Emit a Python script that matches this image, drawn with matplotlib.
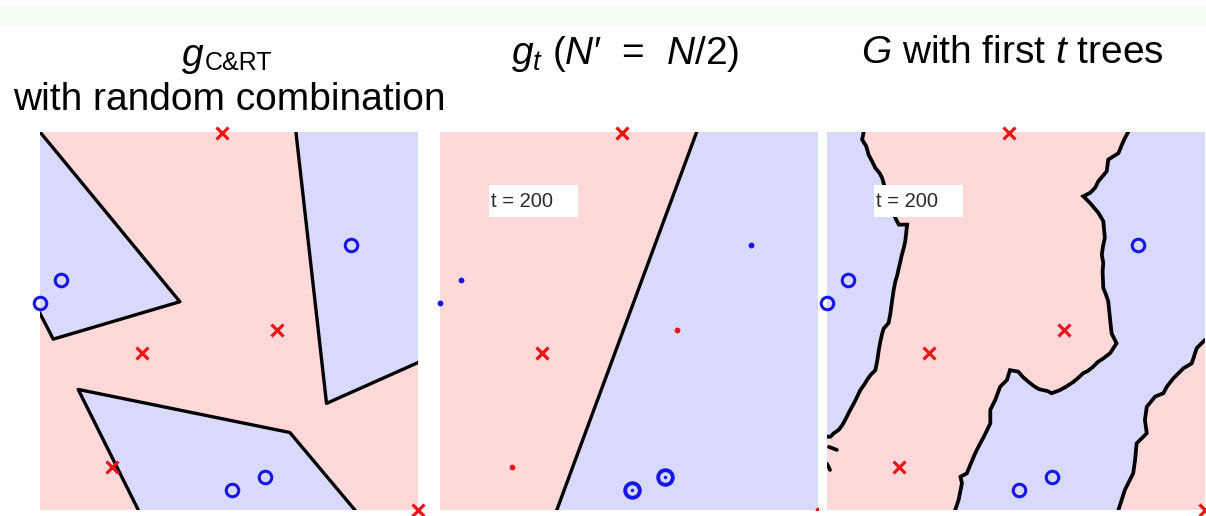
import matplotlib
matplotlib.use("Agg")
import matplotlib.pyplot as plt
from matplotlib.patches import Polygon, Rectangle
import numpy as np

plt.rcParams["font.family"] = ["Liberation Sans", "DejaVu Sans"]
plt.rcParams["mathtext.fontset"] = "custom"
plt.rcParams["mathtext.rm"] = "Liberation Sans"
plt.rcParams["mathtext.it"] = "Liberation Sans:italic"
plt.rcParams["mathtext.sf"] = "Liberation Sans"

# ---------------- data ----------------
# training points (shared by all three panels)
pt_x = [0.481, 0.626, 0.269, 0.190, 1.000, 0.822, 0.055, 0.000, 0.595, 0.509]
pt_y = [0.997, 0.476, 0.415, 0.115, 0.000, 0.701, 0.608, 0.547, 0.088, 0.053]
pt_label = [-1, -1, -1, -1, -1, +1, +1, +1, +1, +1]
# how many times each point appears in the bootstrap sample of g_t
boot_count = [1, 0, 1, 0, 0, 0, 0, 0, 2, 2]

# C&RT with random combination: blue regions (polygon vertices)
crt_a_x = [0.000, 0.370, 0.035, 0.000]
crt_a_y = [1.000, 0.551, 0.452, 0.520]
crt_b_x = [0.677, 0.758, 1.000, 1.000]
crt_b_y = [1.000, 0.282, 0.390, 1.000]
crt_c_x = [0.260, 0.101, 0.661, 0.833]
crt_c_y = [0.000, 0.319, 0.205, 0.000]

# single tree g_t: linear split
gt_x = [0.679, 0.309]
gt_y = [1.000, 0.000]

# forest G (first 200 trees): boundary curves
left_x = [0.097, 0.093, 0.104, 0.110, 0.120, 0.128, 0.140, 0.146, 0.161, 0.181,
          0.190, 0.212, 0.207, 0.203, 0.198, 0.194, 0.190, 0.186, 0.181, 0.176,
          0.172, 0.168, 0.163, 0.150, 0.146, 0.141, 0.137, 0.133, 0.128, 0.115,
          0.106, 0.098, 0.088, 0.080, 0.071, 0.060, 0.048, 0.040, 0.031, 0.018,
          0.009, 0.000]
left_y = [1.000, 0.980, 0.962, 0.940, 0.921, 0.905, 0.890, 0.878, 0.825, 0.772,
          0.755, 0.755, 0.711, 0.693, 0.675, 0.657, 0.640, 0.622, 0.605, 0.580,
          0.552, 0.522, 0.495, 0.480, 0.467, 0.445, 0.423, 0.395, 0.370, 0.357,
          0.344, 0.331, 0.317, 0.300, 0.282, 0.262, 0.238, 0.224, 0.212, 0.203,
          0.194, 0.194]
dash1_x = [0.005, 0.026]
dash1_y = [0.167, 0.159]
dash2_x = [0.000, 0.008]
dash2_y = [0.122, 0.106]

mid_x = [0.797, 0.788, 0.780, 0.771, 0.744, 0.740, 0.718, 0.709, 0.696, 0.678,
         0.696, 0.718, 0.731, 0.735, 0.730, 0.727, 0.731, 0.729, 0.731, 0.738,
         0.744, 0.749, 0.753, 0.766, 0.749, 0.731, 0.717, 0.704, 0.690, 0.678,
         0.665, 0.652, 0.632, 0.616, 0.594, 0.583, 0.572, 0.560, 0.550, 0.533,
         0.518, 0.506, 0.484, 0.476, 0.458, 0.445, 0.432, 0.432, 0.415, 0.403,
         0.392, 0.381, 0.370, 0.353, 0.357, 0.348, 0.339]
mid_y = [1.000, 0.984, 0.966, 0.944, 0.927, 0.896, 0.870, 0.852, 0.839, 0.830,
         0.812, 0.786, 0.764, 0.720, 0.697, 0.675, 0.653, 0.631, 0.587, 0.570,
         0.552, 0.503, 0.467, 0.441, 0.415, 0.401, 0.392, 0.379, 0.368, 0.362,
         0.350, 0.339, 0.326, 0.317, 0.309, 0.315, 0.317, 0.320, 0.326, 0.339,
         0.352, 0.366, 0.370, 0.344, 0.326, 0.291, 0.265, 0.229, 0.194, 0.172,
         0.150, 0.124, 0.097, 0.088, 0.071, 0.026, 0.000]

right_x = [1.000, 0.978, 0.965, 0.943, 0.916, 0.899, 0.890, 0.868, 0.846, 0.841,
           0.846, 0.837, 0.819, 0.817, 0.815, 0.810, 0.799, 0.788, 0.771]
right_y = [0.450, 0.428, 0.388, 0.375, 0.348, 0.326, 0.309, 0.300, 0.273, 0.238,
           0.203, 0.194, 0.176, 0.154, 0.132, 0.097, 0.075, 0.053, 0.000]

# ---------------- style ----------------
PINK = "#ffd9d9"
BLUE = "#d9d9fd"
RED = "#ec1515"
DBLUE = "#1616ea"
LW = 2.4

W, H = 1206, 516
fig = plt.figure(figsize=(W / 100, H / 100), dpi=100)

# faint header strip
fig.patches.append(Rectangle((0, 1 - 25 / H), 1, 18 / H, transform=fig.transFigure,
                             facecolor="#f6fcf2", edgecolor="none", zorder=0))

lefts = [40, 440, 827]
axes = []
for lp in lefts:
    ax = fig.add_axes([lp / W, (H - 510) / H, 378 / W, 378 / H])
    ax.set_xlim(0, 1)
    ax.set_ylim(0, 1)
    ax.set_axis_off()
    ax.add_patch(Rectangle((0, 0), 1, 1, facecolor=PINK, edgecolor="none", zorder=0))
    axes.append(ax)

pt_x = np.array(pt_x)
pt_y = np.array(pt_y)
pt_label = np.array(pt_label)
boot_count = np.array(boot_count)
neg = pt_label < 0
pos = pt_label > 0


def draw_full_points(ax):
    ax.plot(pt_x[neg], pt_y[neg], ls="none", marker="x", ms=9, mew=2.3,
            color=RED, clip_on=False, zorder=5)
    ax.plot(pt_x[pos], pt_y[pos], ls="none", marker="o", ms=9, mew=2.2,
            mfc="none", mec=DBLUE, clip_on=False, zorder=5)


# ---- panel 1: C&RT with random combination ----
ax = axes[0]
for px, py in [(crt_a_x, crt_a_y), (crt_b_x, crt_b_y), (crt_c_x, crt_c_y)]:
    ax.add_patch(Polygon(np.column_stack([px, py]), closed=True,
                         facecolor=BLUE, edgecolor="none", zorder=1))
ax.plot(crt_a_x, crt_a_y, color="k", lw=LW, zorder=3)
ax.plot(crt_b_x[:3], crt_b_y[:3], color="k", lw=LW, zorder=3)
ax.plot(crt_c_x, crt_c_y, color="k", lw=LW, zorder=3)
draw_full_points(ax)

# ---- panel 2: g_t on a bootstrap sample ----
ax = axes[1]
ax.add_patch(Polygon([[gt_x[0], gt_y[0]], [1, 1], [1, 0], [gt_x[1], gt_y[1]]],
                     closed=True, facecolor=BLUE, edgecolor="none", zorder=1))
ax.plot(gt_x, gt_y, color="k", lw=LW, zorder=3)
out = boot_count == 0
once = boot_count == 1
twice = boot_count >= 2
ax.plot(pt_x[out & neg], pt_y[out & neg], ls="none", marker="o", ms=4.2,
        color=RED, mec="none", zorder=5)
ax.plot(pt_x[out & pos], pt_y[out & pos], ls="none", marker="o", ms=4.2,
        color=DBLUE, mec="none", clip_on=False, zorder=5)
ax.plot(pt_x[once & neg], pt_y[once & neg], ls="none", marker="x", ms=9, mew=2.4,
        color=RED, clip_on=False, zorder=5)
ax.plot(pt_x[twice & pos], pt_y[twice & pos], ls="none", marker="o", ms=10.5,
        mew=2.8, mfc="none", mec=DBLUE, clip_on=False, zorder=5)
ax.plot(pt_x[twice & pos], pt_y[twice & pos], ls="none", marker="o", ms=2.5,
        color=DBLUE, mec="none", clip_on=False, zorder=5)

# ---- panel 3: forest G ----
ax = axes[2]
ax.add_patch(Polygon(np.column_stack([[0] + left_x, [1] + left_y]), closed=True,
                     facecolor=BLUE, edgecolor="none", zorder=1))
blue_x = mid_x + right_x[::-1] + [1.0]
blue_y = mid_y + right_y[::-1] + [1.0]
ax.add_patch(Polygon(np.column_stack([blue_x, blue_y]), closed=True,
                     facecolor=BLUE, edgecolor="none", zorder=1))
for cx, cy in [(left_x, left_y), (mid_x, mid_y), (right_x, right_y),
               (dash1_x, dash1_y), (dash2_x, dash2_y)]:
    ax.plot(cx, cy, color="k", lw=2.7, zorder=3, solid_joinstyle="miter",
            solid_capstyle="round")
draw_full_points(ax)

# t = 200 labels
for ax, x0 in [(axes[1], 0.130), (axes[2], 0.124)]:
    ax.add_patch(Rectangle((x0, 0.776), 0.236, 0.084, facecolor="white",
                           edgecolor="none", zorder=6))
    ax.text(x0 + 0.006, 0.815, "t = 200", fontsize=14.5, color="#2a2a2a",
            ha="left", va="center", zorder=7)

# titles
TS = 28
fig.text(204 / W, (H - 66) / H, "g", fontsize=TS, style="italic",
         ha="right", va="baseline")
fig.text(205 / W, (H - 70) / H, "C&RT", fontsize=18, ha="left", va="baseline")
fig.text(229 / W, (H - 110) / H, "with random combination", fontsize=TS,
         ha="center", va="baseline")
fig.text(625 / W, (H - 64) / H, "$g_t$ ($N$\u2032  =  $N$/2)", fontsize=TS,
         ha="center", va="baseline")
fig.text(1012 / W, (H - 63) / H, "$G$ with first $t$ trees", fontsize=TS,
         ha="center", va="baseline")

fig.savefig("out.png", dpi=100, facecolor="white")
